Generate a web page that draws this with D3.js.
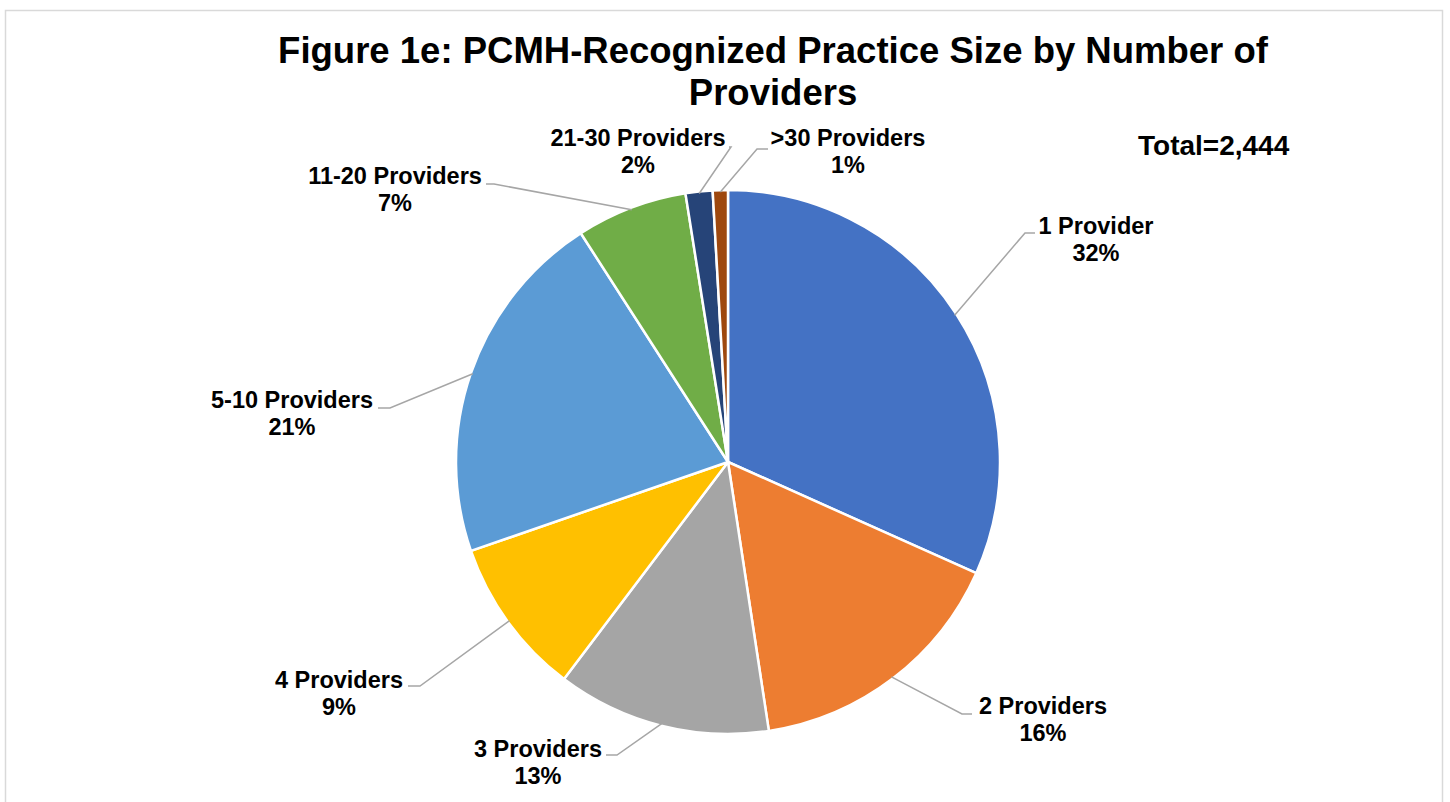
<html lang="en">
  <head>
    <meta charset="utf-8">
    <title>Figure 1e</title>
    <script src="https://d3js.org/d3.v7.min.js"></script>
    <style>
      body { margin: 0; background: #fff; }
      text { font-family: "Liberation Sans", Arial, sans-serif; font-weight: bold; fill: #000; }
    </style>
  </head>
  <body>
    <script type="text/javascript">
      var w = 1450;
      var h = 802;

      // data
      var categories = ["1 Provider", "2 Providers", "3 Providers", "4 Providers",
                        "5-10 Providers", "11-20 Providers", "21-30 Providers", ">30 Providers"];
      var shares = [31.7, 15.9, 12.7, 9.4, 21.2, 6.6, 1.6, 0.9];
      var pctLabels = ["32%", "16%", "13%", "9%", "21%", "7%", "2%", "1%"];
      var colors = ["#4472C4", "#ED7D31", "#A5A5A5", "#FFC000", "#5B9BD5", "#70AD47", "#264478", "#9E480E"];
      var total = "Total=2,444";

      // label layout (text centre, baseline, elbow of leader, end of leader)
      var labelPos = [
        {x: 1096, y: 234, ex: 1025, ey: 233, tx: 1035},
        {x: 1043, y: 714, ex: 962,  ey: 714, tx: 972},
        {x: 538,  y: 757, ex: 617,  ey: 755, tx: 606},
        {x: 339,  y: 688, ex: 420,  ey: 686, tx: 408},
        {x: 292,  y: 408, ex: 390,  ey: 408, tx: 378},
        {x: 395,  y: 184, ex: 494,  ey: 184, tx: 486},
        {x: 638,  y: 146, ex: 731,  ey: 147, tx: 729},
        {x: 848,  y: 146, ex: 757,  ey: 149, tx: 768}
      ];

      var cx = 728, cy = 462, r = 272;

      var svg = d3.select("body")
                  .append("svg")
                  .attr("width", w)
                  .attr("height", h);

      // chart area border
      svg.append("rect")
         .attr("x", 5.5).attr("y", 10.5)
         .attr("width", 1437).attr("height", 820)
         .attr("fill", "#fff")
         .attr("stroke", "#d9d9d9")
         .attr("stroke-width", 1.5);

      // title
      var title = svg.append("text")
         .attr("text-anchor", "middle")
         .style("font-size", "36.5px");
      title.append("tspan").attr("x", 773).attr("y", 63)
           .text("Figure 1e: PCMH-Recognized Practice Size by Number of");
      title.append("tspan").attr("x", 773).attr("y", 105)
           .text("Providers");

      svg.append("text")
         .attr("x", 1138).attr("y", 155)
         .style("font-size", "28px")
         .text(total);

      var pie = d3.pie().sort(null).value(function (d) { return d; });
      var arcs = pie(shares);
      var arc = d3.arc().innerRadius(0).outerRadius(r);
      var edge = d3.arc().innerRadius(r - 2).outerRadius(r - 2);

      var g = svg.append("g").attr("transform", `translate(${cx}, ${cy})`);
      g.selectAll("path")
       .data(arcs)
       .enter()
       .append("path")
       .attr("d", arc)
       .attr("fill", function (d, i) { return colors[i]; })
       .attr("stroke", "#fff")
       .attr("stroke-width", 2.5)
       .attr("stroke-linejoin", "round");

      // leader lines
      arcs.forEach(function (d, i) {
        var c = edge.centroid(d);
        var p = labelPos[i];
        svg.append("polyline")
           .attr("points", [[cx + c[0], cy + c[1]], [p.ex, p.ey], [p.tx, p.ey]].map(function (q) { return q.join(","); }).join(" "))
           .attr("fill", "none")
           .attr("stroke", "#a6a6a6")
           .attr("stroke-width", 1.5);
      });

      // labels
      categories.forEach(function (c, i) {
        var p = labelPos[i];
        var t = svg.append("text")
                   .attr("text-anchor", "middle")
                   .style("font-size", "23.5px");
        t.append("tspan").attr("x", p.x).attr("y", p.y).text(c);
        t.append("tspan").attr("x", p.x).attr("y", p.y + 27).text(pctLabels[i]);
      });
    </script>
  </body>
</html>
